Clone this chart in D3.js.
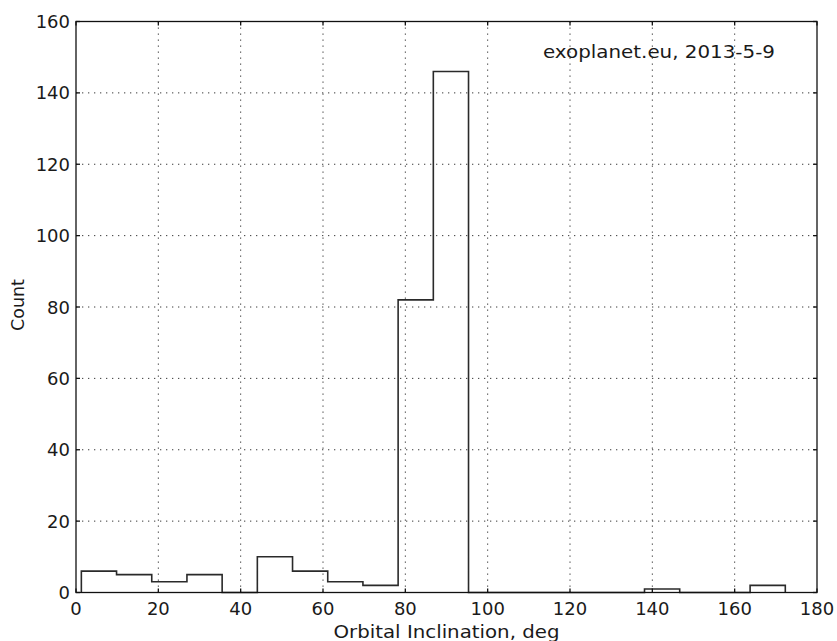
<!DOCTYPE html>
<html>
<head>
<meta charset="utf-8">
<script src="https://cdn.jsdelivr.net/npm/d3@7"></script>
<style>
  html, body { margin: 0; padding: 0; background: #fff; }
  svg { display: block; }
  text { font-family: "DejaVu Sans", sans-serif; fill: #1a1a1a; }
</style>
</head>
<body>
<svg id="chart" width="837" height="641"></svg>
<script>
// Histogram of orbital inclinations (step outline)
const binEdges = [1.3, 9.85, 18.4, 26.95, 35.5, 44.05, 52.6, 61.15, 69.7, 78.25,
                  86.8, 95.35, 103.9, 112.45, 121.0, 129.55, 138.1, 146.65, 155.2, 163.75, 172.3];
const binCounts = [6, 5, 3, 5, 0, 10, 6, 3, 2, 82, 146, 0, 0, 0, 0, 0, 1, 0, 0, 2];
const xTicks = [0, 20, 40, 60, 80, 100, 120, 140, 160, 180];
const yTicks = [0, 20, 40, 60, 80, 100, 120, 140, 160];
const xLabel = "Orbital Inclination, deg";
const yLabel = "Count";
const note = "exoplanet.eu, 2013-5-9";

const plotL = 76, plotR = 817, plotT = 21.5, plotB = 592.5;
const svg = d3.select("#chart");
const x = d3.scaleLinear().domain([0, 180]).range([plotL, plotR]);
const y = d3.scaleLinear().domain([0, 160]).range([plotB, plotT]);

// dotted grid at the inner ticks
const grid = svg.append("g").attr("stroke", "#3a3a3a").attr("stroke-width", 1)
  .attr("stroke-dasharray", "1.3,4.7").attr("fill", "none");
xTicks.slice(1, -1).forEach(v => {
  grid.append("line").attr("x1", x(v)).attr("x2", x(v)).attr("y1", plotT).attr("y2", plotB);
});
yTicks.slice(1, -1).forEach(v => {
  grid.append("line").attr("y1", y(v)).attr("y2", y(v)).attr("x1", plotL).attr("x2", plotR);
});

// step outline of the histogram
const pts = [[binEdges[0], 0]];
binCounts.forEach((c, i) => {
  pts.push([binEdges[i], c]);
  pts.push([binEdges[i + 1], c]);
});
pts.push([binEdges[binEdges.length - 1], 0]);
const line = d3.line().x(d => x(d[0])).y(d => y(d[1]));
svg.append("path").attr("d", line(pts))
  .attr("fill", "none").attr("stroke", "#2a2a2a").attr("stroke-width", 1.6)
  .attr("stroke-linejoin", "miter");

// axes frame and inward ticks
const ax = svg.append("g").attr("stroke", "#111").attr("stroke-width", 1.3);
ax.append("rect").attr("x", plotL).attr("y", plotT).attr("width", plotR - plotL).attr("height", plotB - plotT)
  .attr("fill", "none");
xTicks.forEach(v => {
  ax.append("line").attr("x1", x(v)).attr("x2", x(v)).attr("y1", plotB).attr("y2", plotB - 4);
  ax.append("line").attr("x1", x(v)).attr("x2", x(v)).attr("y1", plotT).attr("y2", plotT + 4);
});
yTicks.forEach(v => {
  ax.append("line").attr("y1", y(v)).attr("y2", y(v)).attr("x1", plotL).attr("x2", plotL + 4);
  ax.append("line").attr("y1", y(v)).attr("y2", y(v)).attr("x1", plotR).attr("x2", plotR - 4);
});

// tick labels
const fs = 18;
svg.append("g").selectAll("text").data(xTicks).join("text")
  .attr("x", d => x(d)).attr("y", plotB + 22).attr("text-anchor", "middle")
  .attr("font-size", fs).text(d => d);
svg.append("g").selectAll("text").data(yTicks).join("text")
  .attr("x", plotL - 6).attr("y", d => y(d) + 6.5).attr("text-anchor", "end")
  .attr("font-size", fs).text(d => d);

// axis titles and note
svg.append("text").attr("x", (plotL + plotR) / 2).attr("y", 638).attr("text-anchor", "middle")
  .attr("font-size", 17.5).attr("textLength", 226).attr("lengthAdjust", "spacingAndGlyphs")
  .text(xLabel);
svg.append("text").attr("transform", "translate(24,305) rotate(-90)").attr("text-anchor", "middle")
  .attr("font-size", 17.5).text(yLabel);
svg.append("text").attr("x", 775).attr("y", 58).attr("text-anchor", "end")
  .attr("font-size", 17.5).attr("textLength", 232).attr("lengthAdjust", "spacingAndGlyphs")
  .text(note);
</script>
</body>
</html>
